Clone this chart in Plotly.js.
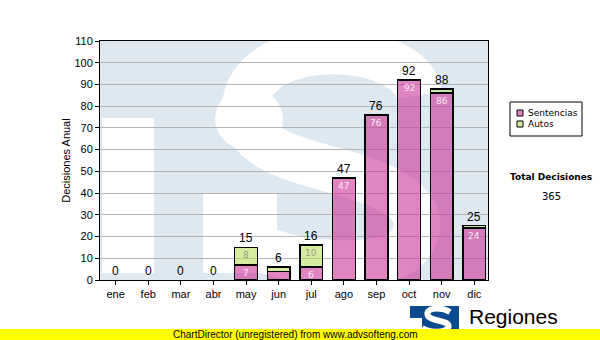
<!DOCTYPE html>
<html>
<head>
<meta charset="utf-8">
<script src="https://cdn.plot.ly/plotly-3.0.1.min.js"></script>
<style>html,body{margin:0;padding:0;background:#fff;}#chart{width:600px;height:340px;}</style>
</head>
<body>
<div id="chart"></div>
<script>
const months = ['ene','feb','mar','abr','may','jun','jul','ago','sep','oct','nov','dic'];
const sentencias = [0,0,0,0,7,4,6,47,76,92,86,24];
const autos = [0,0,0,0,8,2,10,0,0,0,2,1];
const seriesNames = ['Sentencias','Autos'];
const yTicks = [0,10,20,30,40,50,60,70,80,90,100,110];
const yTitle = 'Decisiones Anual';
const totalLabel = 'Total Decisiones';
const brandText = 'Regiones';
const footerText = 'ChartDirector (unregistered) from www.advsofteng.com';

const totals = sentencias.map((v,i)=>v+autos[i]);
const grandTotal = totals.reduce((a,b)=>a+b,0);

const pink = 'rgba(204,51,153,0.6)';
const green = 'rgba(180,220,80,0.55)';

// pixel -> paper helpers (plot area: x 100..488, y 41..280)
const L=100, R=112, T=41, B=60, W=600, H=340;
const PW = W-L-R, PH = H-T-B;
const X = px => (px-L)/PW;
const Y = py => (H-B-py)/PH;
const pt = (a,b) => X(a).toFixed(4)+','+Y(b).toFixed(4);

const traces = [
  {type:'bar', name:seriesNames[0], x:months, y:sentencias.map(v=>v||null),
   width:0.7, marker:{color:pink, line:{color:'#000', width:1.5}}, hoverinfo:'skip'},
  {type:'bar', name:seriesNames[1], x:months, y:autos.map(v=>v||null),
   width:0.7, marker:{color:green, line:{color:'#000', width:1.5}}, hoverinfo:'skip'}
];

const annotations = [];
totals.forEach((t,i)=>{
  annotations.push({x:months[i], y:t, xref:'x', yref:'y', text:String(t), showarrow:false,
    yanchor:'bottom', font:{family:'Liberation Sans, Arial', size:12, color:'#000'}});
  if (sentencias[i] >= 5) annotations.push({x:months[i], y:sentencias[i], xref:'x', yref:'y',
    text:String(sentencias[i]), showarrow:false, yanchor:'top', yshift:-1,
    font:{family:'DejaVu Sans', size:9, color:'#f8e8f4'}});
  if (autos[i] >= 5) annotations.push({x:months[i], y:t, xref:'x', yref:'y',
    text:String(autos[i]), showarrow:false, yanchor:'top', yshift:-1,
    font:{family:'DejaVu Sans', size:9, color:'#9a9a8a'}});
});
// manual legend text
annotations.push({xref:'paper', yref:'paper', x:X(526), y:Y(113), text:seriesNames[0], showarrow:false,
  xanchor:'left', yanchor:'middle', font:{family:'DejaVu Sans', size:9, color:'#000'}});
annotations.push({xref:'paper', yref:'paper', x:X(526), y:Y(124), text:seriesNames[1], showarrow:false,
  xanchor:'left', yanchor:'middle', font:{family:'DejaVu Sans', size:9, color:'#000'}});
annotations.push({xref:'paper', yref:'paper', x:X(551), y:Y(177), text:'<b>'+totalLabel+'</b>', showarrow:false,
  xanchor:'center', yanchor:'middle', font:{family:'DejaVu Sans', size:9, color:'#000'}});
annotations.push({xref:'paper', yref:'paper', x:X(551), y:Y(196), text:String(grandTotal), showarrow:false,
  xanchor:'center', yanchor:'middle', font:{family:'DejaVu Sans', size:10, color:'#000'}});
annotations.push({xref:'paper', yref:'paper', x:X(467), y:Y(316), text:brandText, showarrow:false,
  xanchor:'left', yanchor:'middle', font:{family:'Liberation Sans, Arial', size:21, color:'#000'}});
annotations.push({xref:'paper', yref:'paper', x:X(295), y:Y(334.5), text:footerText, showarrow:false,
  xanchor:'center', yanchor:'middle', font:{family:'Liberation Sans, Arial', size:10, color:'#000'}});

const sPath = 'M'+pt(420,95)+' C'+pt(410,40)+' '+pt(255,30)+' '+pt(245,105)+
  ' C'+pt(240,150)+' '+pt(300,160)+' '+pt(350,175)+
  ' C'+pt(420,195)+' '+pt(430,225)+' '+pt(405,250)+
  ' C'+pt(380,270)+' '+pt(300,266)+' '+pt(262,248);

const logoS = 'M'+pt(450,312)+' C'+pt(440,306)+' '+pt(424,308)+' '+pt(428,316)+
  ' C'+pt(432,322)+' '+pt(452,320)+' '+pt(448,328)+' C'+pt(444,334)+' '+pt(428,332)+' '+pt(422,328);

const shapes = [
  // watermark (below grid)
  {type:'rect', xref:'paper', yref:'paper', x0:X(102), x1:X(154), y0:Y(273), y1:Y(118), layer:'below',
   fillcolor:'#fff', line:{width:0}},
  {type:'rect', xref:'paper', yref:'paper', x0:X(203), x1:X(277), y0:Y(273), y1:Y(193), layer:'below',
   fillcolor:'#fff', line:{width:0}},
  {type:'circle', xref:'paper', yref:'paper', x0:X(215), x1:X(283), y0:Y(150), y1:Y(88), layer:'below',
   fillcolor:'#fff', line:{width:0}},
  {type:'path', xref:'paper', yref:'paper', path:sPath, layer:'below', line:{color:'#fff', width:46}},
  // legend box
  {type:'rect', xref:'paper', yref:'paper', x0:X(510), x1:X(582), y0:Y(136), y1:Y(102),
   fillcolor:'#fff', line:{color:'#000', width:1}},
  {type:'rect', xref:'paper', yref:'paper', x0:X(517), x1:X(523), y0:Y(116), y1:Y(110),
   fillcolor:pink, line:{color:'#000', width:1}},
  {type:'rect', xref:'paper', yref:'paper', x0:X(517), x1:X(523), y0:Y(127), y1:Y(121),
   fillcolor:green, line:{color:'#000', width:1}},
  // logo
  {type:'rect', xref:'paper', yref:'paper', x0:X(410), x1:X(459), y0:Y(332), y1:Y(306),
   fillcolor:'#0a4a8e', line:{width:0}},
  {type:'rect', xref:'paper', yref:'paper', x0:X(410), x1:X(422), y0:Y(332), y1:Y(318),
   fillcolor:'#fff', line:{width:0}},
  {type:'path', xref:'paper', yref:'paper', path:logoS, line:{color:'#fff', width:6}},
  // footer bar
  {type:'rect', xref:'paper', yref:'paper', x0:X(0), x1:X(600), y0:Y(340), y1:Y(329),
   fillcolor:'#ffff00', line:{width:0}}
];

const layout = {
  width:W, height:H, margin:{l:L, r:R, t:T, b:B, pad:0},
  paper_bgcolor:'#fff', plot_bgcolor:'#dee8f1',
  barmode:'stack', showlegend:false,
  font:{family:'Liberation Sans, Arial', size:11, color:'#000'},
  xaxis:{type:'category', range:[-0.48, 11.42], showline:true, mirror:true, linecolor:'#000', linewidth:1,
    ticks:'outside', ticklen:4, tickcolor:'#000', showgrid:false, zeroline:false,
    tickfont:{family:'Liberation Sans, Arial', size:11, color:'#000'}, fixedrange:true},
  yaxis:{range:[0,110], tickvals:yTicks, showline:true, mirror:true, linecolor:'#000', linewidth:1,
    ticks:'outside', ticklen:4, tickcolor:'#000', showgrid:true, gridcolor:'#b4b4b4', gridwidth:1, zeroline:false,
    tickfont:{family:'Liberation Sans, Arial', size:11, color:'#000'},
    title:{text:yTitle, font:{family:'Liberation Sans, Arial', size:11, color:'#000'}, standoff:1},
    automargin:false, fixedrange:true},
  annotations:annotations, shapes:shapes
};

Plotly.newPlot('chart', traces, layout, {staticPlot:true, displayModeBar:false});
</script>
</body>
</html>
